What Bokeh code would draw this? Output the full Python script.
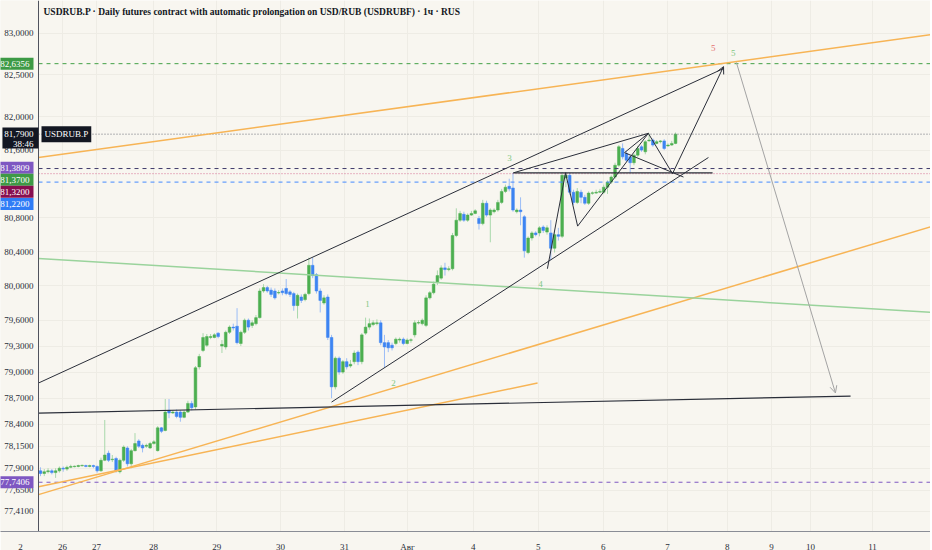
from bokeh.plotting import figure
from bokeh.models import (FixedTicker, CustomJSTickFormatter, Label, Arrow,
                          OpenHead, ColumnDataSource)
from bokeh.core.properties import value
from bokeh.embed import file_html
from bokeh.resources import INLINE

FONT = "Liberation Sans Narrow"
BG = "#f8f6f0"

# ---------------- data (hourly candles, bar index = position) ----------------
open_ = [77.87, 77.84, 77.86, 77.87, 77.85, 77.87, 77.90, 77.89, 77.91, 77.92,
         77.92, 77.93, 77.93, 77.92, 77.93, 77.92, 77.87, 77.99, 78.07, 78.00,
         78.01, 77.86, 77.99, 78.13, 77.95, 78.10, 78.21, 78.16, 78.15, 78.13,
         78.18, 78.10, 78.36, 78.33, 78.56, 78.53, 78.54, 78.54, 78.48, 78.54,
         78.64, 78.60, 79.06, 79.25, 79.31, 79.40, 79.40, 79.45, 79.30, 79.29,
         79.46, 79.52, 79.53, 79.33, 79.46, 79.60, 79.54, 79.56, 79.63, 79.94,
         79.98, 79.95, 79.94, 79.92, 79.94, 79.97, 79.93, 79.91, 79.77, 79.87,
         79.84, 79.91, 80.24, 80.13, 79.94, 79.80, 79.87, 79.40, 78.83, 79.16,
         79.00, 79.12, 79.07, 79.12, 79.23, 79.12, 79.45, 79.52, 79.55, 79.56,
         79.57, 79.34, 79.34, 79.31, 79.33, 79.37, 79.38, 79.33, 79.37, 79.43,
         79.57, 79.56, 79.54, 79.86, 79.92, 80.04, 80.09, 80.21, 80.19, 80.20,
         80.59, 80.77, 80.84, 80.77, 80.83, 80.85, 80.79, 80.73, 80.97, 80.83,
         80.87, 80.89, 80.98, 81.11, 81.17, 81.15, 80.87, 80.89, 80.81, 80.39,
         80.56, 80.62, 80.62, 80.69, 80.63, 80.62, 80.44, 80.60, 80.58, 81.27,
         81.30, 81.10, 80.98, 81.10, 81.04, 80.97, 81.09, 81.09, 81.10, 81.10,
         81.16, 81.22, 81.28, 81.42, 81.62, 81.56, 81.52, 81.45, 81.54, 81.64,
         81.58, 81.71, 81.72, 81.68, 81.70, 81.71, 81.65, 81.66, 81.68]
high = [77.91, 77.89, 77.90, 77.89, 77.90, 77.92, 77.92, 77.93, 77.94, 77.93,
        77.94, 77.94, 77.94, 77.94, 77.94, 77.93, 78.02, 78.45, 78.10, 78.05,
        78.03, 78.01, 78.16, 78.15, 78.12, 78.30, 78.23, 78.18, 78.18, 78.20,
        78.22, 78.38, 78.37, 78.69, 78.69, 78.56, 78.57, 78.56, 78.56, 78.67,
        78.67, 79.07, 79.21, 79.45, 79.44, 79.44, 79.45, 79.46, 79.37, 79.48,
        79.54, 79.56, 79.74, 79.48, 79.62, 79.62, 79.60, 79.66, 79.97, 80.02,
        80.00, 79.98, 79.97, 79.95, 79.97, 80.08, 79.95, 79.93, 79.91, 79.90,
        79.92, 80.33, 80.33, 80.15, 79.97, 79.89, 79.90, 79.43, 79.18, 79.18,
        79.14, 79.16, 79.14, 79.25, 79.25, 79.45, 79.63, 79.62, 79.60, 79.61,
        79.60, 79.43, 79.37, 79.34, 79.40, 79.40, 79.40, 79.39, 79.39, 79.60,
        79.60, 79.62, 79.89, 79.94, 80.05, 80.18, 80.24, 80.27, 80.23, 80.62,
        80.91, 80.88, 80.87, 80.85, 80.88, 80.90, 80.82, 81.01, 81.00, 80.91,
        80.91, 81.01, 81.14, 81.19, 81.26, 81.33, 80.91, 81.04, 80.83, 80.58,
        80.64, 80.64, 80.70, 80.71, 80.71, 80.77, 80.65, 80.68, 81.34, 81.34,
        81.33, 81.13, 81.15, 81.13, 81.07, 81.11, 81.11, 81.13, 81.14, 81.19,
        81.24, 81.30, 81.45, 81.66, 81.68, 81.59, 81.54, 81.56, 81.65, 81.66,
        81.72, 81.80, 81.74, 81.72, 81.72, 81.73, 81.68, 81.71, 81.81]
low = [77.81, 77.81, 77.84, 77.83, 77.79, 77.85, 77.86, 77.87, 77.90, 77.91,
       77.91, 77.92, 77.91, 77.91, 77.90, 77.85, 77.86, 77.98, 77.97, 77.97,
       77.85, 77.84, 77.97, 77.92, 77.90, 78.09, 78.13, 78.08, 78.13, 78.12,
       78.17, 78.09, 78.30, 78.32, 78.47, 78.52, 78.47, 78.43, 78.47, 78.53,
       78.56, 78.57, 79.03, 79.23, 79.29, 79.38, 79.39, 79.39, 79.22, 79.26,
       79.44, 79.48, 79.32, 79.30, 79.44, 79.48, 79.51, 79.54, 79.62, 79.92,
       79.92, 79.87, 79.84, 79.90, 79.89, 79.89, 79.87, 79.71, 79.62, 79.80,
       79.82, 79.89, 80.09, 79.91, 79.69, 79.78, 79.37, 78.70, 78.80, 78.97,
       78.98, 79.03, 79.05, 79.09, 79.08, 79.09, 79.43, 79.49, 79.53, 79.54,
       79.31, 79.05, 79.23, 79.25, 79.31, 79.34, 79.31, 79.32, 79.34, 79.40,
       79.55, 79.54, 79.52, 79.84, 79.90, 80.01, 80.07, 80.12, 80.17, 80.18,
       80.57, 80.75, 80.75, 80.75, 80.82, 80.84, 80.66, 80.71, 80.81, 80.51,
       80.85, 80.87, 80.96, 81.09, 81.11, 80.87, 80.85, 80.71, 80.33, 80.37,
       80.53, 80.58, 80.58, 80.62, 80.60, 80.30, 80.39, 80.53, 80.56, 81.16,
       81.07, 80.95, 80.96, 80.97, 80.95, 80.95, 81.07, 81.08, 81.09, 81.08,
       81.08, 81.20, 81.26, 81.40, 81.49, 81.46, 81.33, 81.42, 81.52, 81.58,
       81.55, 81.70, 81.64, 81.67, 81.68, 81.60, 81.64, 81.65, 81.67]
close = [77.84, 77.86, 77.87, 77.85, 77.87, 77.90, 77.89, 77.91, 77.92, 77.92,
         77.93, 77.93, 77.92, 77.93, 77.92, 77.87, 77.99, 78.05, 77.99, 78.00,
         77.87, 77.99, 78.14, 77.95, 78.10, 78.18, 78.15, 78.13, 78.16, 78.18,
         78.20, 78.36, 78.32, 78.54, 78.53, 78.54, 78.49, 78.48, 78.54, 78.64,
         78.59, 79.05, 79.18, 79.40, 79.41, 79.41, 79.43, 79.41, 79.32, 79.46,
         79.52, 79.51, 79.34, 79.46, 79.60, 79.52, 79.57, 79.63, 79.94, 79.98,
         79.94, 79.90, 79.86, 79.92, 79.92, 79.91, 79.90, 79.77, 79.89, 79.83,
         79.90, 80.24, 80.12, 79.94, 79.83, 79.86, 79.40, 78.83, 79.16, 79.00,
         79.12, 79.06, 79.09, 79.22, 79.12, 79.43, 79.52, 79.56, 79.57, 79.57,
         79.34, 79.29, 79.28, 79.28, 79.38, 79.38, 79.33, 79.37, 79.37, 79.57,
         79.57, 79.60, 79.86, 79.92, 80.02, 80.12, 80.21, 80.19, 80.20, 80.59,
         80.77, 80.85, 80.77, 80.83, 80.85, 80.88, 80.73, 80.97, 80.83, 80.89,
         80.89, 80.98, 81.11, 81.16, 81.14, 80.89, 80.89, 80.87, 80.41, 80.56,
         80.62, 80.60, 80.68, 80.65, 80.68, 80.44, 80.60, 80.58, 81.30, 81.30,
         81.10, 80.98, 81.11, 81.04, 80.97, 81.09, 81.09, 81.10, 81.11, 81.16,
         81.22, 81.28, 81.42, 81.64, 81.52, 81.48, 81.45, 81.54, 81.62, 81.60,
         81.70, 81.72, 81.66, 81.70, 81.71, 81.62, 81.66, 81.68, 81.79]

price_ticks = [77.41, 77.65, 77.90, 78.15, 78.40, 78.70, 79.00, 79.30, 79.60,
               80.00, 80.40, 80.80, 81.60, 82.00, 82.50, 83.00]
day_pos = [-5.3, 5.8, 14.8, 29.9, 46.6, 63.5, 80.4, 97.1, 114.5, 131.7, 148.9,
           165.9, 181.7, 193.4, 203.7, 220.1]
day_labels = ["2", "26", "27", "28", "29", "30", "31", "Авг", "4", "5", "6", "7",
              "8", "9", "10", "11"]

# drawn levels
level_target = 82.6356
level_last = 81.79
level_a = 81.3809
level_b = 81.37
level_c = 81.32
level_d = 81.22
level_low = 77.7406
countdown = "38:46"

# trend lines (bar index, price)
chan_up_x, chan_up_y = [-0.53, 180.7], [78.874, 82.577]
chan_lo_x, chan_lo_y = [77.0, 176.7], [78.655, 81.512]
base_x, base_y = [-0.53, 214.3], [78.529, 78.724]
zig_x = [134.1, 138.9, 142.1, 160.8, 167.2]
zig_y = [80.20, 81.33, 80.70, 81.80, 81.32]
wedge_x, wedge_y = [125.1, 160.8], [81.33, 81.80]
shelf_x, shelf_y = [125.1, 177.8], [81.33, 81.33]
tri_x, tri_y = [160.8, 154.5, 170.1], [81.80, 81.57, 81.28]
or_hi_x, or_hi_y = [-0.53, 236.0], [81.512, 82.988]
or_lo_x, or_lo_y = [-0.53, 236.0], [77.60, 80.70]
or_sh_x, or_sh_y = [-0.53, 131.5], [77.69, 78.874]
gr_x, gr_y = [-0.53, 236.0], [80.32, 79.69]
up_arrow = (167.2, 81.32, 180.7, 82.60)
down_arrow = (184.1, 82.65, 210.3, 78.76)

wave_text = ["5", "5", "3", "4", "1", "2"]
wave_x = [178.0, 183.3, 124.1, 132.3, 86.5, 93.4]
wave_y = [82.82, 82.76, 81.51, 80.02, 79.79, 78.87]
wave_col = ["#e57373", "#81c784", "#81c784", "#81c784", "#81c784", "#81c784"]

TITLE = ("USDRUB.P · Daily futures contract with automatic prolongation on "
         "USD/RUB (USDRUBF) · 1ч · RUS")

# ---------------- figure ----------------
x_start, x_end = -10.582, 235.45     # frame spans the whole width
x_axis = -0.529                       # position of the price-scale border
y_start, y_end = 77.1840, 83.4005

p = figure(frame_width=930, frame_height=531, x_range=(x_start, x_end),
           y_range=(y_start, y_end), y_axis_type="log", y_axis_location=None,
           output_backend="svg", toolbar_location=None,
           min_border_left=0, min_border_right=0, min_border_top=0,
           min_border_bottom=17)
p.background_fill_color = BG
p.border_fill_color = BG
p.outline_line_color = None

yt = FixedTicker(ticks=price_ticks, minor_ticks=[])
p.ygrid.ticker = yt
xt = FixedTicker(ticks=day_pos, minor_ticks=[])
p.xaxis.ticker = xt
p.xgrid.ticker = FixedTicker(ticks=day_pos[1:], minor_ticks=[])
p.xaxis.formatter = CustomJSTickFormatter(args=dict(labels=day_labels),
                                          code="return labels[index];")
p.xaxis.major_tick_line_color = None
p.xaxis.minor_tick_line_color = None
p.xaxis.major_label_text_font = FONT
p.xaxis.major_label_text_font_size = "9px"
p.xaxis.major_label_text_color = "#2a2e39"
p.xaxis.major_label_standoff = 4
p.xaxis.axis_line_color = "#8a8d96"
p.xgrid.grid_line_color = "#eeece5"
p.ygrid.grid_line_color = "#eeece5"

# ---------------- candles ----------------
n = len(close)
xs = list(range(n))
up = [close[i] >= open_[i] for i in range(n)]
top = [max(open_[i], close[i]) if abs(open_[i] - close[i]) > 0.004 else close[i] + 0.003 for i in range(n)]
bot = [min(open_[i], close[i]) if abs(open_[i] - close[i]) > 0.004 else close[i] - 0.003 for i in range(n)]
wick_col = ["#a9d8ab" if u else "#9cbdf6" for u in up]
body_col = ["#4caf50" if u else "#3d84f2" for u in up]
src = ColumnDataSource(dict(x=xs, high=high, low=low, top=top, bot=bot,
                            wc=wick_col, bc=body_col))
p.segment(x0="x", y0="low", x1="x", y1="high", line_color="wc", line_width=1, source=src)
p.vbar(x="x", width=0.72, top="top", bottom="bot", fill_color="bc", line_color="bc",
       line_width=0.5, source=src)

# ---------------- horizontal levels ----------------
def level(price, color, dash, alpha=1.0):
    p.line([x_axis, x_end], [price, price], line_color=color, line_dash=dash,
           line_width=1, line_alpha=alpha)

level(level_target, "#43a047", "4 4")
level(level_last, "#6a6d78", "1 2")
level(level_a, "#3f3a6b", "4 4")
level(level_c, "#c2185b", "1 2", 0.6)
level(level_d, "#448aff", "4 4")
level(level_low, "#7e57c2", "4 4")

# ---------------- drawings ----------------
p.line(or_hi_x, or_hi_y, line_color="#f7b455", line_width=1.5)
p.line(or_lo_x, or_lo_y, line_color="#f7b455", line_width=1.5)
p.line(or_sh_x, or_sh_y, line_color="#f7b455", line_width=1.5)
p.line(gr_x, gr_y, line_color="#9ad39c", line_width=1.5)
DK = "#2a2e39"
p.line(chan_up_x, chan_up_y, line_color=DK, line_width=1)
p.line(chan_lo_x, chan_lo_y, line_color=DK, line_width=1)
p.line(base_x, base_y, line_color=DK, line_width=1.2)
p.line(zig_x, zig_y, line_color=DK, line_width=1)
p.line(wedge_x, wedge_y, line_color=DK, line_width=1)
p.line(shelf_x, shelf_y, line_color=DK, line_width=1.2)
p.line(tri_x, tri_y, line_color=DK, line_width=1)
p.add_layout(Arrow(end=OpenHead(size=7, line_color=DK, line_width=1),
                   x_start=up_arrow[0], y_start=up_arrow[1],
                   x_end=up_arrow[2], y_end=up_arrow[3],
                   line_color=DK, line_width=1))
p.add_layout(Arrow(end=OpenHead(size=7, line_color="#a3a3a3", line_width=1),
                   x_start=down_arrow[0], y_start=down_arrow[1],
                   x_end=down_arrow[2], y_end=down_arrow[3],
                   line_color="#a3a3a3", line_width=1))

p.text(x=wave_x, y=wave_y, text=wave_text, text_color=wave_col,
       text_font=value(FONT), text_font_size="9px", text_align="center",
       text_baseline="middle")

# ---------------- price scale (left) ----------------
p.quad(left=x_start, right=x_axis, bottom=y_start, top=y_end,
       fill_color=BG, line_color=None)
p.segment(x0=x_axis, y0=y_start, x1=x_axis, y1=y_end, line_color="#50535e",
          line_width=1)
tick_text = [f"{t:.4f}".replace(".", ",") for t in price_ticks]
p.text(x=[x_axis] * len(price_ticks), y=price_ticks, text=tick_text,
       x_offset=-5, text_align="right", text_baseline="middle",
       text_font=value(FONT), text_font_size="9px", text_color="#2a2e39")

# black last-price box (price + countdown) on the scale
box_center_x = (x_start + x_axis) / 2 + 0.25
box_center_y = 81.743
p.rect(x=[box_center_x], y=[box_center_y], width=36, height=21,
       width_units="screen", height_units="screen",
       fill_color="#131722", line_color=None)

# ---------------- title ----------------
p.add_layout(Label(x=x_axis, y=y_end, x_offset=5, y_offset=-11, text=TITLE,
                   text_font=FONT, text_font_size="9.5px", text_font_style="bold",
                   text_color="#131722", text_baseline="middle", text_align="left"))

# ---------------- price tags on the scale ----------------
def tag(price, text, color, dy=0):
    p.add_layout(Label(x=x_axis, y=price, x_offset=-5, y_offset=dy, text=text,
                       text_font=FONT, text_font_size="9px", text_color="white",
                       text_align="right", text_baseline="middle",
                       background_fill_color=color, background_fill_alpha=1.0,
                       padding=(4, 3)))

def plain(price, text, dy=0):
    p.add_layout(Label(x=x_axis, y=price, x_offset=-5, y_offset=dy, text=text,
                       text_font=FONT, text_font_size="9px", text_color="white",
                       text_align="right", text_baseline="middle"))

tag(level_target, "82,6356", "#3d9a45")
plain(level_last, "81,7900", 0)
plain(level_last, countdown, -9.5)
tag(level_a, "81,3809", "#7e57c2", 0.8)
tag(level_b, "81,3700", "#3d9a45", -10.3)
tag(level_c, "81,3200", "#880e4f", -18)
tag(level_d, "81,2200", "#2f7cf6", -21.8)
tag(level_low, "77,7406", "#7e57c2")

p.add_layout(Label(x=x_axis, y=level_last, x_offset=3, y_offset=0, text="USDRUB.P",
                   text_font=FONT, text_font_size="9px", text_color="white",
                   text_align="left", text_baseline="middle",
                   background_fill_color="#131722", background_fill_alpha=1.0,
                   padding=(3, 3)))

open("out.html", "w").write(file_html(p, INLINE))
